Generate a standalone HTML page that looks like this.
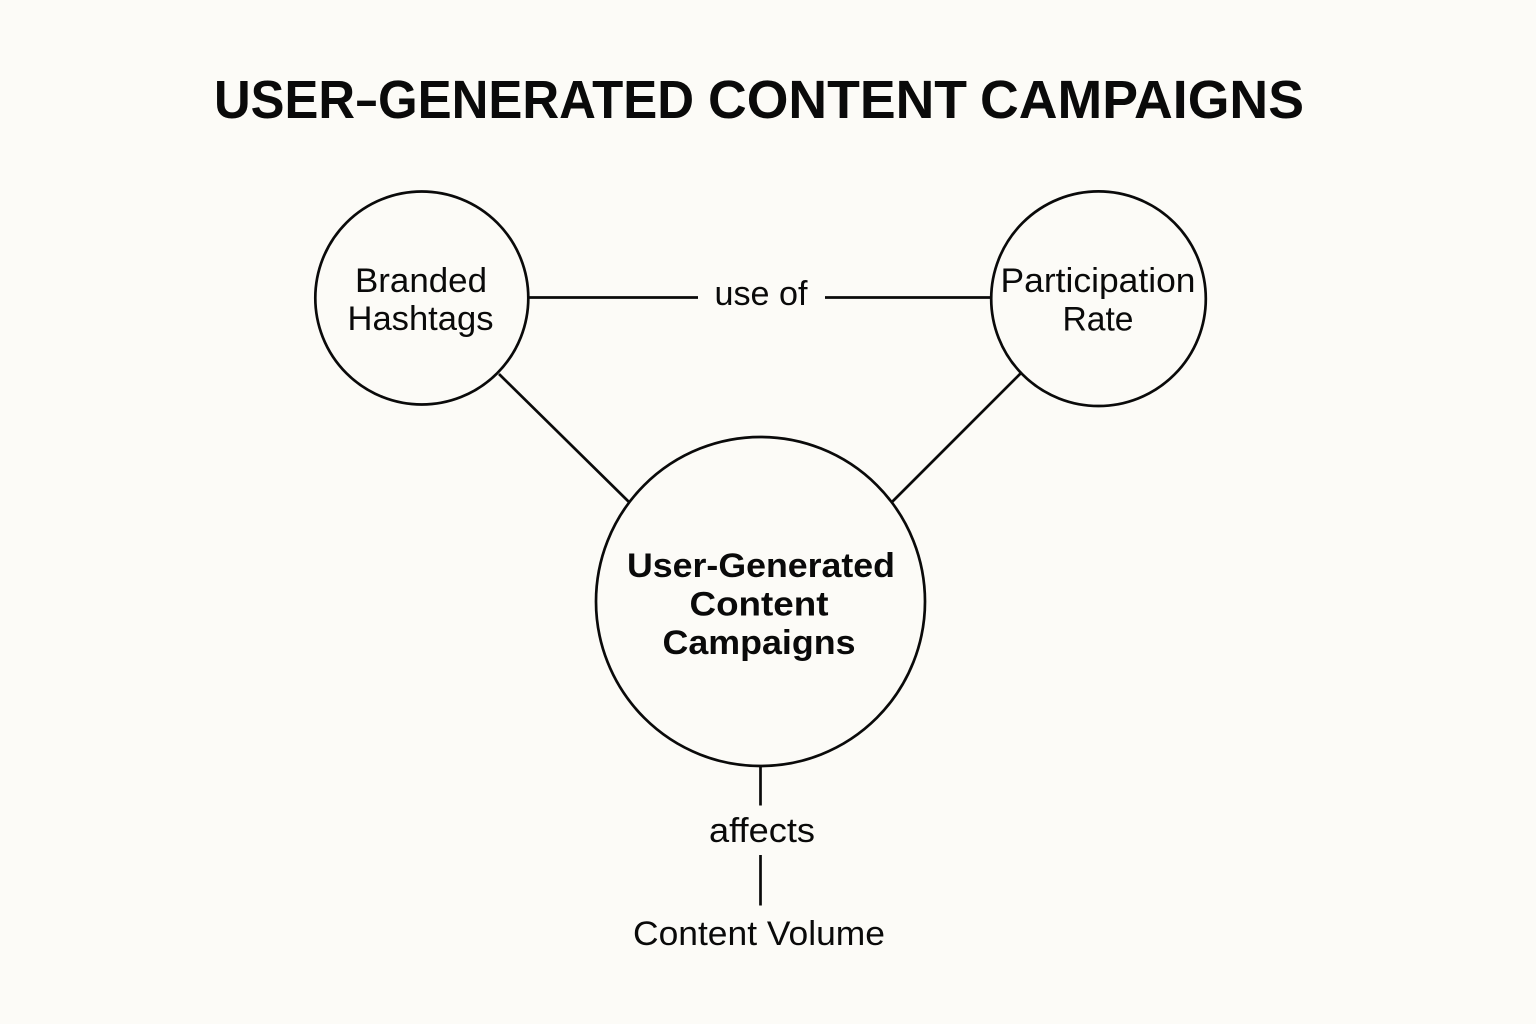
<!DOCTYPE html>
<html>
<head>
<meta charset="utf-8">
<style>
html,body{margin:0;padding:0;background:#fcfbf7;}
svg{display:block;}
text{font-family:"Liberation Sans",sans-serif;fill:#0a0a0a;text-anchor:middle;}
.t{text-anchor:start;}
</style>
</head>
<body>
<svg width="1536" height="1024" viewBox="0 0 1536 1024" xmlns="http://www.w3.org/2000/svg">
<rect width="1536" height="1024" fill="#fcfbf7"/>
<g font-size="54" font-weight="700">
<text class="t" x="214" y="118" textLength="141" lengthAdjust="spacingAndGlyphs">USER</text>
<text class="t" x="356" y="118" textLength="21" lengthAdjust="spacingAndGlyphs">–</text>
<text class="t" x="378" y="118" textLength="316" lengthAdjust="spacingAndGlyphs">GENERATED</text>
<text class="t" x="708" y="118" textLength="259" lengthAdjust="spacingAndGlyphs">CONTENT</text>
<text class="t" x="980" y="118" textLength="324" lengthAdjust="spacingAndGlyphs">CAMPAIGNS</text>
</g>
<g fill="none" stroke="#0a0a0a" stroke-width="2.7">
<circle cx="421.800" cy="298" r="106.500"/>
<circle cx="1098.500" cy="298.700" r="107.300"/>
<circle cx="760.500" cy="601.500" r="164.500"/>
<line x1="529" y1="297.500" x2="698" y2="297.500"/>
<line x1="825" y1="297.500" x2="991" y2="297.500"/>
<line x1="499" y1="374" x2="630" y2="503"/>
<line x1="1021" y1="373" x2="892" y2="502"/>
<line x1="760.500" y1="766" x2="760.500" y2="805.500"/>
<line x1="760.500" y1="855" x2="760.500" y2="905.500"/>
</g>
<g font-size="34">
<text x="421" y="292" textLength="132" lengthAdjust="spacingAndGlyphs">Branded</text>
<text x="420.500" y="330" textLength="146" lengthAdjust="spacingAndGlyphs">Hashtags</text>
<text x="1098" y="292" textLength="195" lengthAdjust="spacingAndGlyphs">Participation</text>
<text x="1098" y="330.500" textLength="71" lengthAdjust="spacingAndGlyphs">Rate</text>
<text x="761" y="305" textLength="93" lengthAdjust="spacingAndGlyphs">use of</text>
<text x="762" y="842" textLength="106" lengthAdjust="spacingAndGlyphs">affects</text>
<text x="759" y="945" textLength="252" lengthAdjust="spacingAndGlyphs">Content Volume</text>
</g>
<g font-size="34" font-weight="700">
<text x="761" y="577" textLength="268" lengthAdjust="spacingAndGlyphs">User-Generated</text>
<text x="759" y="615.500" textLength="139" lengthAdjust="spacingAndGlyphs">Content</text>
<text x="759" y="654" textLength="193" lengthAdjust="spacingAndGlyphs">Campaigns</text>
</g>
</svg>
</body>
</html>
